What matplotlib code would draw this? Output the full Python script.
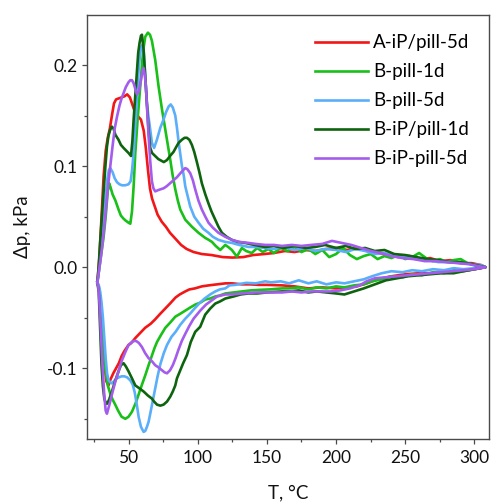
import numpy as np
import matplotlib
matplotlib.use("Agg")
import matplotlib.pyplot as plt
from matplotlib.ticker import MultipleLocator, FormatStrFormatter

plt.rcParams['font.family'] = ['Lato', 'DejaVu Sans']

labels = ["A-iP/pill-5d", "B-pill-1d", "B-pill-5d", "B-iP/pill-1d", "B-iP-pill-5d"]
colors = ["#F21616", "#18C018", "#5AAEFA", "#0E640E", "#A45CEC"]

# ---------------- A-iP/pill-5d (red) ----------------
red_T_up = [27.5, 29, 30.5, 32, 33.5, 35, 36.5, 38, 39.5, 41, 43, 45, 47, 49, 51, 53, 55, 57, 59, 61, 62.5,
            64, 65.5, 67, 69, 71, 74, 77, 80, 84, 88, 92, 97, 103, 110, 118, 125, 133, 140, 148, 155, 163,
            170, 178, 185, 193, 200, 208, 215, 223, 230, 238, 245, 253, 260, 268, 275, 283, 290, 298, 305, 308]
red_dp_up = [-0.015, 0.01, 0.05, 0.09, 0.115, 0.128, 0.137, 0.150, 0.162, 0.166, 0.167, 0.168, 0.169, 0.171,
             0.168, 0.160, 0.152, 0.149, 0.146, 0.135, 0.118, 0.097, 0.078, 0.068, 0.060, 0.052, 0.045, 0.040,
             0.034, 0.028, 0.022, 0.018, 0.015, 0.013, 0.012, 0.010, 0.0095, 0.010, 0.012, 0.013, 0.014, 0.016,
             0.015, 0.017, 0.016, 0.018, 0.019, 0.017, 0.019, 0.016, 0.014, 0.012, 0.010, 0.011, 0.008, 0.009,
             0.006, 0.007, 0.004, 0.004, 0.002, 0.0]
red_T_dn = [308, 300, 290, 280, 270, 260, 250, 240, 230, 222, 215, 208, 200, 190, 180, 170, 161, 150, 144,
            138, 132, 125, 120, 114, 108, 103, 98, 94, 91, 87, 84, 80, 76.5, 73, 69, 66, 62, 58.5, 55, 52, 50,
            47, 45, 43, 41, 39, 37, 35.5, 34, 32.5, 31, 30, 29, 28, 27.5]
red_dp_dn = [0.0, -0.002, -0.004, -0.005, -0.006, -0.006, -0.007, -0.009, -0.012, -0.016, -0.019, -0.020,
             -0.021, -0.020, -0.021, -0.019, -0.018, -0.0175, -0.0175, -0.017, -0.017, -0.016, -0.016, -0.017,
             -0.018, -0.019, -0.021, -0.022, -0.024, -0.027, -0.030, -0.036, -0.041, -0.046, -0.052, -0.056,
             -0.060, -0.065, -0.070, -0.075, -0.077, -0.083, -0.088, -0.095, -0.100, -0.105, -0.111, -0.117,
             -0.113, -0.095, -0.065, -0.045, -0.025, -0.018, -0.015]

# ---------------- B-pill-1d (green) ----------------
grn_T_up = [27.5, 29, 30.5, 32, 33.5, 35, 36, 37, 38.5, 40.5, 42.8, 44.5, 46.4, 48, 50, 51.3, 52.5, 53.7,
            54.9, 56.5, 58.5, 60, 61, 62.1, 64, 65.5, 66.9, 68, 69.3, 71.7, 74.2, 76.6, 78.5, 80.2, 82, 83.8,
            85.6, 87.4, 91, 95.8, 100.6, 105.4, 108, 110.3, 113, 116.3, 119.9, 122, 124.7, 128.3, 131.9, 135,
            139, 143, 147, 151, 155, 160, 165, 170, 175, 180, 185, 190, 195, 200, 205, 210, 215, 220, 225,
            230, 235, 240, 245, 250, 255, 260, 265, 270, 275, 280, 285, 290, 295, 300, 305, 308]
grn_dp_up = [-0.015, 0.0, 0.015, 0.03, 0.05, 0.075, 0.083, 0.079, 0.072, 0.066, 0.057, 0.051, 0.048, 0.046,
             0.044, 0.043, 0.055, 0.080, 0.113, 0.145, 0.179, 0.205, 0.218, 0.228, 0.232, 0.230, 0.224, 0.215,
             0.205, 0.179, 0.156, 0.136, 0.120, 0.106, 0.090, 0.077, 0.066, 0.057, 0.047, 0.040, 0.034, 0.029,
             0.027, 0.025, 0.021, 0.017, 0.022, 0.020, 0.017, 0.0105, 0.019, 0.016, 0.014, 0.019, 0.015, 0.018,
             0.014, 0.019, 0.016, 0.020, 0.015, 0.018, 0.013, 0.017, 0.010, 0.013, 0.019, 0.012, 0.008, 0.011,
             0.013, 0.008, 0.011, 0.009, 0.012, 0.008, 0.010, 0.014, 0.009, 0.006, 0.008, 0.005, 0.007, 0.008,
             0.004, 0.002, 0.001, 0.0]
grn_T_dn = [308, 300, 292, 285, 278, 270, 262, 255, 248, 240, 233, 226, 220, 213, 206, 200, 193, 186, 180,
            173, 166, 161, 152, 144, 138, 132, 126, 120, 116, 112.7, 109, 105.4, 102, 98.2, 94.5, 91, 87.5,
            83.8, 80, 76.6, 73.5, 70.6, 68.8, 67, 64.5, 62.1, 59.5, 57.3, 55, 52.5, 50, 47.7, 45, 42.5, 40.4,
            38.5, 36.8, 35, 33.5, 32, 30.5, 29.5, 28.5, 27.5]
grn_dp_dn = [0.0, -0.002, -0.004, -0.003, -0.006, -0.005, -0.008, -0.007, -0.010, -0.009, -0.012, -0.014,
             -0.017, -0.018, -0.020, -0.019, -0.021, -0.020, -0.022, -0.020, -0.021, -0.021, -0.022, -0.0225,
             -0.023, -0.024, -0.025, -0.026, -0.028, -0.029, -0.031, -0.032, -0.035, -0.037, -0.040, -0.043,
             -0.046, -0.049, -0.055, -0.060, -0.067, -0.074, -0.080, -0.087, -0.097, -0.107, -0.117, -0.126,
             -0.135, -0.143, -0.148, -0.150, -0.148, -0.142, -0.136, -0.131, -0.125, -0.117, -0.103, -0.085,
             -0.055, -0.032, -0.019, -0.015]

# ---------------- B-pill-5d (light blue) ----------------
blu_T_up = [27.5, 29, 30.5, 32, 33.5, 34.8, 35.8, 36.8, 38.5, 40, 41.7, 43.5, 45.3, 47.5, 50, 51.5, 52.5,
            53.7, 54.9, 56, 57.3, 58.3, 59.2, 60.2, 61, 61.6, 62.5, 63.3, 64.5, 65.7, 66.9, 68.5, 70.5, 73,
            75.3, 77, 79, 80.5, 82, 83.8, 85, 86.2, 87.4, 88.6, 90, 91, 94.6, 97.5, 100.6, 104, 107.8, 111, 115,
            120, 124.7, 130, 136.7, 142, 148.8, 155, 162, 170, 178, 185, 192, 200, 207, 214, 221, 228, 235,
            242, 250, 258, 266, 274, 282, 290, 298, 305, 308]
blu_dp_up = [-0.015, 0.0, 0.02, 0.045, 0.07, 0.088, 0.096, 0.098, 0.094, 0.088, 0.084, 0.082, 0.081, 0.081,
             0.082, 0.085, 0.095, 0.113, 0.140, 0.165, 0.195, 0.210, 0.218, 0.220, 0.214, 0.200, 0.180, 0.162,
             0.148, 0.136, 0.123, 0.118, 0.126, 0.138, 0.146, 0.153, 0.159, 0.161, 0.158, 0.150, 0.138, 0.124,
             0.112, 0.100, 0.090, 0.080, 0.060, 0.050, 0.044, 0.038, 0.034, 0.030, 0.027, 0.025, 0.024, 0.022,
             0.020, 0.020, 0.019, 0.018, 0.020, 0.017, 0.019, 0.016, 0.018, 0.017, 0.015, 0.018, 0.016, 0.013,
             0.014, 0.011, 0.010, 0.008, 0.007, 0.005, 0.005, 0.004, 0.003, 0.002, 0.0]
blu_T_dn = [308, 300, 292, 285, 278, 270, 262, 255, 248, 240, 233, 226, 220, 213, 206, 200, 193, 186, 180,
            173, 166, 160, 153, 148.8, 142, 135, 127.1, 123, 119.9, 116, 112.7, 109, 105, 101, 97, 94.5, 91,
            87.4, 84, 81, 77.8, 75.5, 73, 71, 69.3, 67.5, 65.7, 64.5, 63.3, 62.1, 60.9, 59, 57.3, 56, 54.5, 53,
            51.3, 49, 47, 45, 43, 41.5, 40, 38, 36.8, 35.6, 34.5, 33.5, 32.5, 31.5, 30.5, 29.5, 28.5, 27.5]
blu_dp_dn = [0.0, -0.001, -0.002, -0.001, -0.003, -0.002, -0.004, -0.003, -0.005, -0.004, -0.006, -0.009,
             -0.012, -0.014, -0.016, -0.015, -0.017, -0.014, -0.016, -0.013, -0.016, -0.014, -0.015, -0.014,
             -0.016, -0.0155, -0.0175, -0.018, -0.021, -0.022, -0.024, -0.027, -0.031, -0.036, -0.042, -0.046,
             -0.051, -0.057, -0.064, -0.069, -0.077, -0.085, -0.096, -0.108, -0.120, -0.133, -0.145, -0.153,
             -0.158, -0.162, -0.163, -0.158, -0.148, -0.136, -0.124, -0.116, -0.112, -0.109, -0.108, -0.108,
             -0.109, -0.110, -0.112, -0.115, -0.114, -0.112, -0.105, -0.09, -0.07, -0.05, -0.035, -0.024,
             -0.018, -0.015]

# ---------------- B-iP/pill-1d (dark green) ----------------
dgr_T_up = [27.5, 28.4, 29.5, 30.5, 31.5, 32.2, 33.3, 34.4, 35.5, 36.8, 38, 39.2, 40.5, 42.8, 44.5, 46.4,
            48.5, 50, 51.8, 52.8, 53.7, 54.9, 56.1, 57, 58, 59, 59.7, 60.9, 62, 63.3, 64.5, 65.7, 67, 69.3,
            71.5, 74.2, 75.5, 77.8, 80, 82.5, 84.5, 86.2, 88.5, 90.5, 92.2, 94, 95.8, 97.5, 99.4, 101.2, 103,
            105.5, 107.8, 110, 112.7, 115, 117.5, 121, 124.7, 129, 134.3, 141, 148.8, 155, 162, 170, 178, 185,
            192, 200, 207, 214, 221, 228, 235, 242, 250, 258, 266, 274, 282, 290, 298, 305, 308]
dgr_dp_up = [-0.015, 0.0, 0.025, 0.045, 0.065, 0.080, 0.100, 0.119, 0.130, 0.136, 0.139, 0.137, 0.131,
             0.126, 0.121, 0.118, 0.115, 0.113, 0.110, 0.125, 0.146, 0.170, 0.195, 0.212, 0.222, 0.229, 0.230,
             0.215, 0.190, 0.162, 0.135, 0.118, 0.113, 0.110, 0.107, 0.105, 0.104, 0.106, 0.110, 0.114, 0.119,
             0.123, 0.126, 0.128, 0.128, 0.126, 0.121, 0.114, 0.104, 0.094, 0.083, 0.072, 0.063, 0.055, 0.047,
             0.040, 0.034, 0.030, 0.027, 0.025, 0.024, 0.022, 0.020, 0.021, 0.019, 0.021, 0.019, 0.020, 0.022,
             0.019, 0.021, 0.018, 0.019, 0.016, 0.017, 0.013, 0.012, 0.010, 0.008, 0.007, 0.005, 0.005, 0.003,
             0.001, 0.0]
dgr_T_dn = [308, 300, 292, 285, 276, 268, 260, 252, 244, 236, 228, 220, 213, 206, 200, 193, 186, 180, 173,
            166, 161, 150, 143, 136.7, 131, 125.9, 120, 116, 112.7, 109, 105.4, 101.8, 98.2, 95, 92.2, 89.5,
            87.4, 85, 83.8, 82, 80.2, 77.8, 75.3, 73, 70.6, 68.5, 66.9, 64, 60.9, 58, 54.9, 52.5, 50, 48, 46.4,
            44.5, 42.8, 40.5, 38, 36, 34.6, 33.7, 32.5, 31.5, 30.5, 29.6, 28.5, 27.5]
dgr_dp_dn = [0.0, -0.002, -0.004, -0.006, -0.006, -0.007, -0.008, -0.009, -0.011, -0.013, -0.017, -0.021,
             -0.024, -0.027, -0.026, -0.025, -0.024, -0.025, -0.023, -0.024, -0.024, -0.025, -0.026, -0.026,
             -0.027, -0.029, -0.031, -0.034, -0.036, -0.041, -0.047, -0.059, -0.064, -0.074, -0.087, -0.095,
             -0.102, -0.110, -0.117, -0.123, -0.128, -0.133, -0.136, -0.137, -0.136, -0.133, -0.130, -0.127,
             -0.123, -0.120, -0.117, -0.110, -0.103, -0.098, -0.095, -0.097, -0.103, -0.112, -0.123, -0.131,
             -0.135, -0.135, -0.130, -0.118, -0.097, -0.064, -0.025, -0.015]

# ---------------- B-iP-pill-5d (purple) ----------------
pur_T_up = [27.5, 29, 30.5, 32, 33.5, 35, 36.8, 38.5, 40, 41.7, 43.5, 45, 46.4, 48, 50, 51.3, 52.5, 53.7,
            55, 56.1, 57.5, 59, 60.2, 60.9, 61.8, 62.5, 63.3, 64.5, 65.7, 66.9, 68, 69.3, 71, 73, 75.3, 77.5,
            80, 82.5, 85, 87.5, 89.5, 91, 92.5, 94.6, 96.5, 98.2, 100.5, 103, 105.5, 107.8, 111, 115, 120, 124.7,
            130, 136.7, 142, 148.8, 155, 161, 168, 175, 182, 190, 197, 204, 211, 218, 225, 232, 240, 248, 256,
            264, 272, 280, 288, 296, 303, 308]
pur_dp_up = [-0.015, 0.0, 0.015, 0.034, 0.055, 0.078, 0.100, 0.120, 0.137, 0.149, 0.160, 0.167, 0.172,
             0.178, 0.183, 0.185, 0.185, 0.182, 0.176, 0.171, 0.174, 0.185, 0.195, 0.197, 0.190, 0.180, 0.160,
             0.130, 0.105, 0.085, 0.078, 0.075, 0.076, 0.077, 0.078, 0.080, 0.083, 0.086, 0.089, 0.093, 0.096,
             0.098, 0.097, 0.093, 0.086, 0.077, 0.066, 0.057, 0.050, 0.044, 0.039, 0.034, 0.030, 0.027, 0.025,
             0.024, 0.023, 0.022, 0.022, 0.021, 0.022, 0.021, 0.022, 0.023, 0.026, 0.024, 0.022, 0.019, 0.016,
             0.014, 0.011, 0.009, 0.008, 0.006, 0.006, 0.005, 0.004, 0.003, 0.001, 0.0]
pur_T_dn = [308, 300, 292, 284, 276, 268, 260, 252, 244, 236, 228, 222, 217, 210, 203, 196, 189, 182, 175,
            168, 161, 150, 142, 131.9, 125, 120, 114, 110, 106, 101.8, 97, 94, 91, 88.5, 86, 84, 82, 80, 77.8,
            76, 74.2, 71.5, 69.3, 66.9, 64.5, 62, 59.7, 57.5, 55.5, 54, 52.5, 50, 47.7, 45, 42.8, 40.5, 38,
            36.2, 34.4, 33.5, 32.5, 31.2, 30, 29, 28.2, 27.5]
pur_dp_dn = [0.0, -0.002, -0.003, -0.004, -0.005, -0.006, -0.007, -0.008, -0.009, -0.010, -0.011, -0.014,
             -0.018, -0.021, -0.023, -0.024, -0.024, -0.024, -0.025, -0.024, -0.025, -0.025, -0.025, -0.026,
             -0.027, -0.027, -0.029, -0.033, -0.037, -0.043, -0.051, -0.058, -0.066, -0.073, -0.082, -0.090,
             -0.097, -0.102, -0.105, -0.104, -0.102, -0.099, -0.097, -0.093, -0.090, -0.085, -0.079, -0.075,
             -0.073, -0.073, -0.074, -0.077, -0.084, -0.093, -0.103, -0.113, -0.126, -0.136, -0.145, -0.142,
             -0.127, -0.098, -0.063, -0.035, -0.02, -0.015]

series = [
    (red_T_up, red_dp_up, red_T_dn, red_dp_dn),
    (grn_T_up, grn_dp_up, grn_T_dn, grn_dp_dn),
    (blu_T_up, blu_dp_up, blu_T_dn, blu_dp_dn),
    (dgr_T_up, dgr_dp_up, dgr_T_dn, dgr_dp_dn),
    (pur_T_up, pur_dp_up, pur_T_dn, pur_dp_dn),
]

fig = plt.figure(figsize=(4.91, 5.03), dpi=100)
ax = fig.add_axes([87/491, 1 - 439/503, (489 - 87)/491, (439 - 15)/503])

for (tu, du, td, dd), lab, col in zip(series, labels, colors):
    T = np.concatenate([tu, td])
    dp = np.concatenate([du, dd])
    ax.plot(T, dp, color=col, lw=1.9, label=lab, solid_joinstyle='round')

ax.set_xlim(20, 310.5)
ax.set_ylim(-0.17, 0.2495)
ax.xaxis.set_major_locator(MultipleLocator(50))
ax.xaxis.set_minor_locator(MultipleLocator(25))
ax.yaxis.set_major_locator(MultipleLocator(0.1))
ax.yaxis.set_minor_locator(MultipleLocator(0.05))
ax.yaxis.set_major_formatter(FormatStrFormatter('%.1f'))

spine_col = '#4a4a4a'
for s in ax.spines.values():
    s.set_color(spine_col)
    s.set_linewidth(1.0)
ax.tick_params(which='major', direction='out', length=3.5, width=0.9, color=spine_col,
               labelsize=12.5, labelcolor='#111111', pad=3.5)
ax.tick_params(which='minor', direction='out', length=2.2, width=0.9, color=spine_col)
ax.tick_params(axis='x', which='major', pad=4.5)

ax.set_xlabel("T, °C", fontsize=13.5, color='#111111', labelpad=13)
ax.set_ylabel("Δp, kPa", fontsize=13.5, color='#111111', labelpad=11)

leg = ax.legend(loc='upper left', bbox_to_anchor=(0.567, 0.955), frameon=False, fontsize=13.5,
                handlelength=2.83, handletextpad=0.27, labelspacing=0.64, borderpad=0, borderaxespad=0)
for line in leg.get_lines():
    line.set_linewidth(1.9)

fig.savefig("out.png", dpi=100)
